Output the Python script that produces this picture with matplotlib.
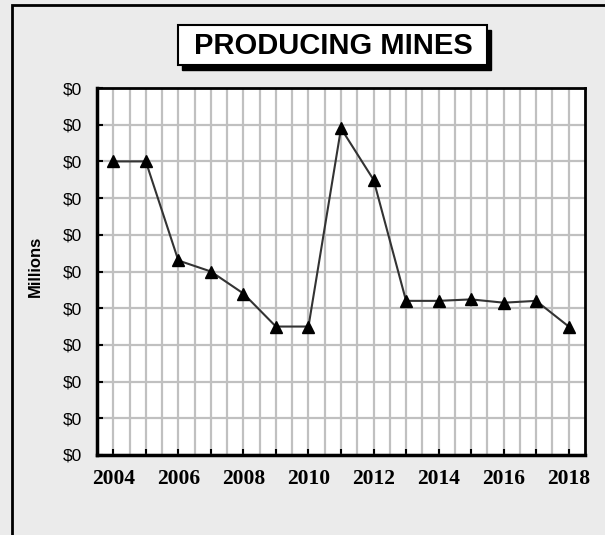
import matplotlib
matplotlib.use("Agg")
import matplotlib.pyplot as plt
from matplotlib.patches import Rectangle
from matplotlib.ticker import FuncFormatter, MultipleLocator

years = [2004, 2005, 2006, 2007, 2008, 2009, 2010, 2011, 2012,
         2013, 2014, 2015, 2016, 2017, 2018]
# values in millions of dollars (all shown as $0 on the axis)
values = [0.080, 0.080, 0.053, 0.050, 0.044, 0.035, 0.035, 0.089, 0.075,
          0.042, 0.042, 0.0424, 0.0415, 0.042, 0.035]
year_labels = [2004, 2006, 2008, 2010, 2012, 2014, 2016, 2018]

W, H = 605, 535


def fx(px):
    return px / W


def fy(py):
    return 1 - py / H


fig = plt.figure(figsize=(W / 100, H / 100), dpi=100)
fig.patch.set_facecolor("#ebebeb")

# outer frame, right and bottom edges run off the picture
fig.patches.append(Rectangle((fx(12), -0.1), 1.2, fy(5) + 0.1,
                             transform=fig.transFigure, fill=False,
                             edgecolor="black", linewidth=2))

ax = fig.add_axes([fx(97), fy(455), fx(585) - fx(97), fy(88) - fy(455)])
ax.set_facecolor("white")
ax.plot(years, values, color="#333333", linewidth=1.5, marker="^",
        markersize=8, markerfacecolor="black", markeredgecolor="black",
        zorder=3)

ax.set_xlim(2003.5, 2018.5)
ax.set_ylim(0, 0.1)
ax.yaxis.set_major_locator(MultipleLocator(0.01))
ax.yaxis.set_major_formatter(FuncFormatter(lambda v, p: f"${v:,.0f}"))
ax.set_xticks(years)
ax.set_xticks([y + 0.5 for y in years[:-1]], minor=True)
ax.set_xticklabels([str(y) if y in year_labels else "" for y in years])

ax.grid(True, which="both", axis="x", color="#c0c0c0", linewidth=1.6)
ax.grid(True, which="major", axis="y", color="#c0c0c0", linewidth=1.6)
ax.set_axisbelow(True)

ax.tick_params(axis="x", which="major", direction="in", length=4, width=1.5,
               pad=10, labelsize=15.5)
ax.tick_params(axis="x", which="minor", length=0)
ax.tick_params(axis="y", direction="in", length=4, width=1.5, pad=11,
               labelsize=12.5)
for lab in ax.get_xticklabels():
    lab.set_fontfamily("Liberation Serif")
    lab.set_fontweight("bold")
for lab in ax.get_yticklabels():
    lab.set_fontfamily("Liberation Sans")

for s in ax.spines.values():
    s.set_linewidth(2)
ax.spines["left"].set_linewidth(2.5)
ax.spines["bottom"].set_linewidth(2.5)

fig.text(fx(35), fy(266), "Millions", rotation=90, ha="center", va="center",
         fontsize=12, fontweight="bold", family="Liberation Sans")

# title box with drop shadow
fig.patches.append(Rectangle((fx(182), fy(70)), fx(491) - fx(182),
                             fy(30) - fy(70), transform=fig.transFigure,
                             facecolor="black", edgecolor="black"))
fig.patches.append(Rectangle((fx(178), fy(65)), fx(487) - fx(178),
                             fy(25) - fy(65), transform=fig.transFigure,
                             facecolor="white", edgecolor="black",
                             linewidth=1.5))
fig.text(fx(333), fy(46), "PRODUCING MINES", ha="center", va="center",
         fontsize=21, fontweight="bold", family="Liberation Sans")

fig.savefig("out.png", dpi=100, facecolor=fig.get_facecolor())
